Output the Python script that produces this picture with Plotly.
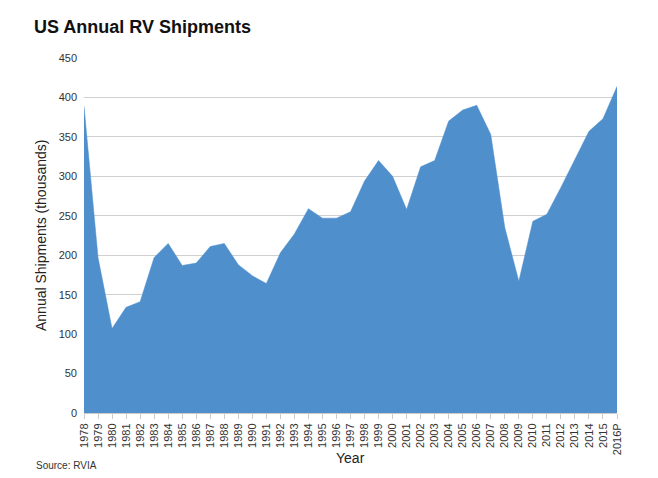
import plotly.graph_objects as go

years = ["1978", "1979", "1980", "1981", "1982", "1983", "1984", "1985", "1986", "1987",
         "1988", "1989", "1990", "1991", "1992", "1993", "1994", "1995", "1996", "1997",
         "1998", "1999", "2000", "2001", "2002", "2003", "2004", "2005", "2006", "2007",
         "2008", "2009", "2010", "2011", "2012", "2013", "2014", "2015", "2016P"]
shipments = [389, 197, 107, 134, 141, 197, 215, 187, 190, 211,
             215, 188, 174, 164, 203, 227, 259, 247, 247, 255,
             294, 320, 300, 258, 312, 320, 370, 384, 390, 353,
             235, 167, 243, 252, 286, 321, 357, 373, 414]
y_ticks = [0, 50, 100, 150, 200, 250, 300, 350, 400, 450]

# page body has an 8px default margin, so the figure is drawn 8px smaller
OFF = 8
W, H = 658 - OFF, 478 - OFF
l, r, t, b = 84 - OFF, 41, 58 - OFF, 65
pw, ph = W - l - r, H - t - b


def px(x, y):
    return (x - OFF - l) / pw, 1 - (y - OFF - t) / ph


fig = go.Figure()
fig.add_trace(go.Scatter(
    x=years, y=shipments, mode="lines", fill="tozeroy",
    line=dict(color="#4f8fcc", width=0.5), fillcolor="#4f8fcc",
    hoverinfo="x+y", showlegend=False,
))

anns = []
for text, x, y, size, color, angle, xanchor in [
    ("<b>US Annual RV Shipments</b>", 32, 27, 18, "#111111", 0, "left"),
    ("Annual Shipments (thousands)", 41, 236, 14, "#222222", -90, "center"),
    ("Year", 350, 458, 14, "#222222", 0, "center"),
    ("Source: RVIA", 34, 465, 10, "#333333", 0, "left"),
]:
    ax, ay = px(x, y)
    anns.append(dict(text=text, x=ax, y=ay, xref="paper", yref="paper", showarrow=False,
                     textangle=angle, font=dict(size=size, color=color),
                     xanchor=xanchor, yanchor="middle"))

fig.update_layout(
    width=W, height=H,
    margin=dict(l=l, r=r, t=t, b=b),
    paper_bgcolor="white", plot_bgcolor="white",
    font=dict(family="Liberation Sans, Arial, sans-serif", color="#333333", size=11),
    xaxis=dict(
        type="category", range=[0, len(years) - 1],
        tickangle=-90, ticks="outside", ticklen=5, tickcolor="#cccccc",
        showline=True, linecolor="#cccccc", linewidth=1,
        showgrid=False, zeroline=False, tickfont=dict(size=11, color="#333333"),
    ),
    yaxis=dict(
        range=[0, 450], tickvals=y_ticks, showgrid=True, gridcolor="#d0d0d0", gridwidth=1,
        zeroline=False, showline=False, ticks="", tickfont=dict(size=11, color="#333333"),
        ticklabelstandoff=6,
    ),
    annotations=anns,
)

fig.write_html("out.html")
